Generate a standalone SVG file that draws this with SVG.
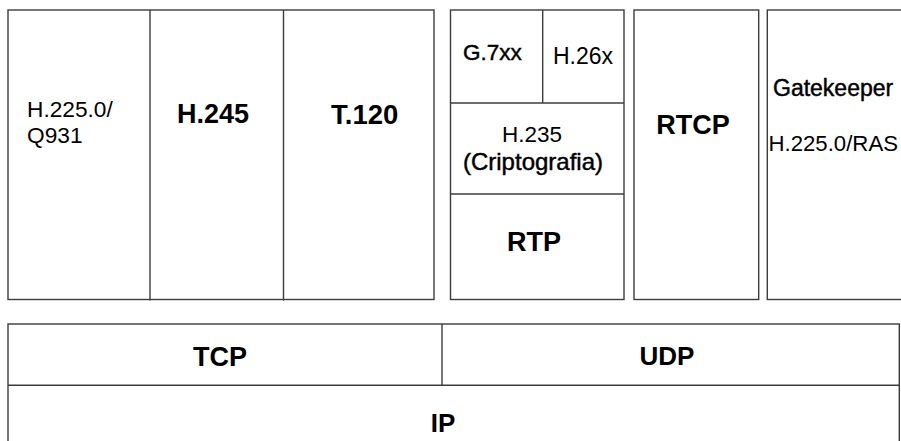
<svg xmlns="http://www.w3.org/2000/svg" width="901" height="441" viewBox="0 0 901 441">
<style>
.box{fill:#ffffff;stroke:#3c3c3c;stroke-width:1.4}
.ln{stroke:#3c3c3c;stroke-width:1.4;fill:none}
text{font-family:"Liberation Sans",Arial,Helvetica,sans-serif;fill:#000}
.r{font-weight:normal}
.sb{font-weight:normal;stroke:#000;stroke-width:0.45}
.b{font-weight:bold}
.m{text-anchor:middle}
</style>
<rect x="0" y="0" width="901" height="441" fill="#ffffff"/>
<g id="signaling">
<rect class="box" x="8" y="10" width="426" height="289.5"/>
<g id="h225">
<text class="r" x="27" y="117" font-size="22.7">H.225.0/</text>
<text class="r" x="27" y="143" font-size="22.7">Q931</text>
</g>
<g id="h245">
<line class="ln" x1="150" y1="10" x2="150" y2="300.5"/>
<text class="b" x="177" y="123" font-size="27">H.245</text>
</g>
<g id="t120">
<line class="ln" x1="283.5" y1="10" x2="283.5" y2="300.5"/>
<text class="b" x="331" y="124" font-size="27.5">T.120</text>
</g>
</g>
<g id="media">
<rect class="box" x="450.5" y="10" width="173.5" height="289.5"/>
<g id="g7xx">
<text class="sb" x="463" y="60" font-size="22.5">G.7xx</text>
</g>
<g id="h26x">
<line class="ln" x1="542.7" y1="10" x2="542.7" y2="103"/>
<text class="r" x="553" y="64" font-size="23">H.26x</text>
</g>
<g id="h235">
<line class="ln" x1="450.5" y1="103" x2="624" y2="103"/>
<text class="r m" x="532" y="142" font-size="22.5">H.235</text>
<text class="sb m" x="533" y="170" font-size="24">(Criptografia)</text>
</g>
<g id="rtp">
<line class="ln" x1="450.5" y1="194" x2="624" y2="194"/>
<text class="b m" x="534" y="251" font-size="27">RTP</text>
</g>
</g>
<g id="rtcp">
<rect class="box" x="634" y="10" width="124.7" height="289.5"/>
<text class="b m" x="693" y="134" font-size="27">RTCP</text>
</g>
<g id="gatekeeper">
<rect class="box" x="767.3" y="10" width="145" height="289.5"/>
<text class="sb" x="773" y="96" font-size="23">Gatekeeper</text>
<text class="r" x="768.5" y="150.5" font-size="22.2">H.225.0/RAS</text>
</g>
<g id="transport">
<rect class="box" x="8" y="324" width="891.3" height="140"/>
<g id="tcp">
<text class="b m" x="220" y="366" font-size="27">TCP</text>
</g>
<g id="udp">
<line class="ln" x1="442" y1="324" x2="442" y2="385.3"/>
<text class="b m" x="667" y="365" font-size="26">UDP</text>
</g>
<g id="ip">
<line class="ln" x1="8" y1="385.3" x2="899.3" y2="385.3"/>
<text class="b m" x="443" y="432" font-size="26">IP</text>
</g>
</g>
<g id="connectors"></g>
</svg>
